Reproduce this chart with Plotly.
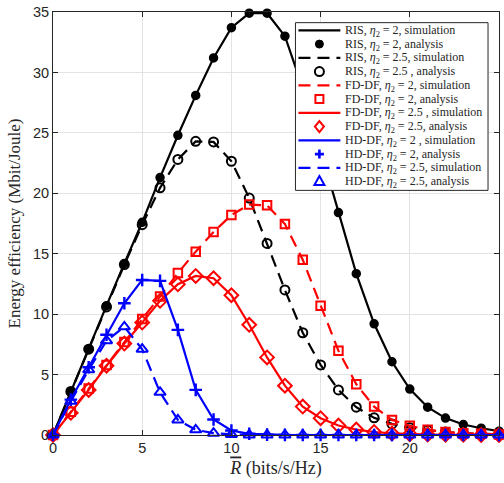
import plotly.graph_objects as go

R = list(range(0, 26))

ris_2 = [0, 3.6, 7.1, 10.7, 14.2, 17.6, 21.3, 24.8, 28.1, 31.2, 33.7, 34.9, 34.9, 33.0,
         28.7, 23.6, 18.4, 13.35, 9.2, 6.06, 3.8, 2.3, 1.4, 0.87, 0.56, 0.32]
ris_25 = [0, 3.6, 7.1, 10.6, 14.1, 17.4, 20.45, 22.8, 24.3, 24.25, 22.65, 19.6, 15.85, 12.0,
          8.46, 5.8, 3.73, 2.3, 1.42, 0.92, 0.6, 0.4, 0.25, 0.15, 0.1, 0.06]
fd_2 = [0, 1.93, 3.85, 5.8, 7.7, 9.6, 11.45, 13.4, 15.17, 16.8, 18.2, 19.07, 19.0, 17.45,
        14.5, 10.7, 6.97, 4.2, 2.35, 1.25, 0.76, 0.43, 0.25, 0.15, 0.1, 0.05]
fd_25 = [0, 1.83, 3.73, 5.73, 7.57, 9.3, 11.1, 12.47, 13.16, 12.97, 11.57, 9.12, 6.42, 4.08,
         2.35, 1.39, 0.78, 0.45, 0.25, 0.13, 0.07, 0.04, 0.02, 0.01, 0.0, 0.0]
hd_2 = [0, 2.93, 5.6, 8.3, 10.9, 12.83, 12.75, 8.7, 3.73, 1.28, 0.37, 0.1, 0.03, 0.01,
        0, 0, 0, 0, 0, 0, 0, 0, 0, 0, 0, 0]
hd_25 = [0, 2.79, 5.4, 7.8, 8.95, 7.1, 3.53, 1.25, 0.43, 0.15, 0.05, 0.01, 0, 0,
         0, 0, 0, 0, 0, 0, 0, 0, 0, 0, 0, 0]

x_ticks = [0, 5, 10, 15, 20, 25]
y_ticks = [0, 5, 10, 15, 20, 25, 30, 35]

ETA = "<i>η</i><sub>2</sub>"
legend_labels = [
    f"RIS, {ETA} = 2, simulation",
    f"RIS, {ETA} = 2, analysis",
    f"RIS, {ETA} = 2.5, simulation",
    f"RIS, {ETA} = 2.5 , analysis",
    f"FD-DF, {ETA} = 2, simulation",
    f"FD-DF, {ETA} = 2, analysis",
    f"FD-DF, {ETA} = 2.5 , simulation",
    f"FD-DF, {ETA} = 2.5, analysis",
    f"HD-DF, {ETA} = 2 , simulation",
    f"HD-DF, {ETA} = 2, analysis",
    f"HD-DF, {ETA} = 2.5, simulation",
    f"HD-DF, {ETA} = 2.5, analysis",
]

DASH = "12px,7px"
LW = 2.2

# plot-area geometry in pixels (used only to place the hand-built legend)
PL, PR, PT, PB = 53, 500, 10, 434.5
W, H = 504, 483
def px(xp):
    return (xp - PL) / (PR - PL)
def py(yp):
    return (PB - yp) / (PB - PT)

fig = go.Figure()

# series: (values, colour, dash, marker symbol, marker size)
series = [
    (ris_2, "black", "solid", "circle", 7.5),
    (ris_25, "black", DASH, "circle-open", 9),
    (fd_2, "red", DASH, "square-open", 8.5),
    (fd_25, "red", "solid", "diamond-open", 10.5),
    (hd_2, "blue", "solid", "cross-thin-open", 9),
    (hd_25, "blue", DASH, "triangle-up-open", 10),
]

for i, (vals, col, dash, sym, sz) in enumerate(series):
    fig.add_trace(go.Scatter(x=R, y=vals, mode="lines", name=legend_labels[2 * i],
                             showlegend=False,
                             line=dict(color=col, width=LW, dash=dash)))
    fig.add_trace(go.Scatter(x=R, y=vals, mode="markers", name=legend_labels[2 * i + 1],
                             showlegend=False, cliponaxis=False,
                             marker=dict(symbol=sym, size=sz, color=col,
                                         line=dict(color=col, width=2.4 if "cross" in sym else 2))))

# ---- hand-built legend (compact MATLAB-like) ----
shapes = []
annotations = []
LX0, LX1, LY0, LY1 = 296, 489, 20.7, 189
shapes.append(dict(type="rect", xref="paper", yref="paper",
                   x0=px(LX0), x1=px(LX1), y0=py(LY1), y1=py(LY0),
                   fillcolor="white", line=dict(color="#262626", width=1), layer="above"))
row0, drow = 28.4, 13.8
line_x0, line_x1, mark_x, text_x = 299, 341, 320, 344

def marker_shape(sym, col, xa, ya):
    base = dict(xref="paper", yref="paper", xsizemode="pixel", ysizemode="pixel",
                xanchor=xa, yanchor=ya, layer="above")
    if sym == "circle":
        return dict(type="circle", x0=-4, x1=4, y0=-4, y1=4, fillcolor=col,
                    line=dict(color=col, width=1), **base)
    if sym == "circle-open":
        return dict(type="circle", x0=-4.5, x1=4.5, y0=-4.5, y1=4.5,
                    line=dict(color=col, width=2), **base)
    if sym == "square-open":
        return dict(type="rect", x0=-4, x1=4, y0=-4, y1=4,
                    line=dict(color=col, width=2), **base)
    if sym == "diamond-open":
        return dict(type="path", path="M0,5.5 L4.5,0 L0,-5.5 L-4.5,0 Z",
                    line=dict(color=col, width=2), **base)
    if sym == "cross-thin-open":
        return dict(type="path", path="M-4.5,0 L4.5,0 M0,-4.5 L0,4.5",
                    line=dict(color=col, width=2.6), **base)
    if sym == "triangle-up-open":
        return dict(type="path", path="M0,5.5 L5,-3.5 L-5,-3.5 Z",
                    line=dict(color=col, width=2), **base)

for i, (vals, col, dash, sym, sz) in enumerate(series):
    yl = row0 + (2 * i) * drow
    ym = row0 + (2 * i + 1) * drow
    shapes.append(dict(type="line", xref="paper", yref="paper",
                       x0=px(line_x0), x1=px(line_x1), y0=py(yl), y1=py(yl),
                       line=dict(color=col, width=LW, dash=dash), layer="above"))
    shapes.append(marker_shape(sym, col, px(mark_x), py(ym)))
    for j, yy in ((2 * i, yl), (2 * i + 1, ym)):
        annotations.append(dict(text=legend_labels[j], xref="paper", yref="paper",
                                x=px(text_x), y=py(yy + 0.5), xanchor="left", yanchor="middle",
                                showarrow=False,
                                font=dict(family="Liberation Serif, Times New Roman",
                                          size=12, color="#262626")))

axis_common = dict(
    showline=True, linecolor="#262626", linewidth=1, mirror="ticks",
    ticks="inside", ticklen=5, tickcolor="#262626",
    showgrid=True, gridcolor="#e3e3e3", gridwidth=1, zeroline=False,
    tickfont=dict(family="Liberation Sans, Arial", size=14.5, color="#262626"),
)

fig.update_layout(
    width=W, height=H,
    margin=dict(l=PL, r=W - PR, t=PT, b=48),
    paper_bgcolor="white", plot_bgcolor="white",
    xaxis=dict(range=[0, 25], tickvals=x_ticks, **axis_common,
               title=dict(text='<span style="text-decoration:overline"><i>R</i></span> (bits/s/Hz)',
                          standoff=5,
                          font=dict(family="Liberation Serif, Times New Roman", size=18, color="#262626"))),
    yaxis=dict(range=[0, 35], tickvals=y_ticks, **axis_common,
               title=dict(text="Energy efficiency (Mbit/Joule)", standoff=8,
                          font=dict(family="Liberation Serif, Times New Roman", size=17, color="#262626"))),
    shapes=shapes,
    annotations=annotations,
    showlegend=False,
)

fig.write_html("out.html")
